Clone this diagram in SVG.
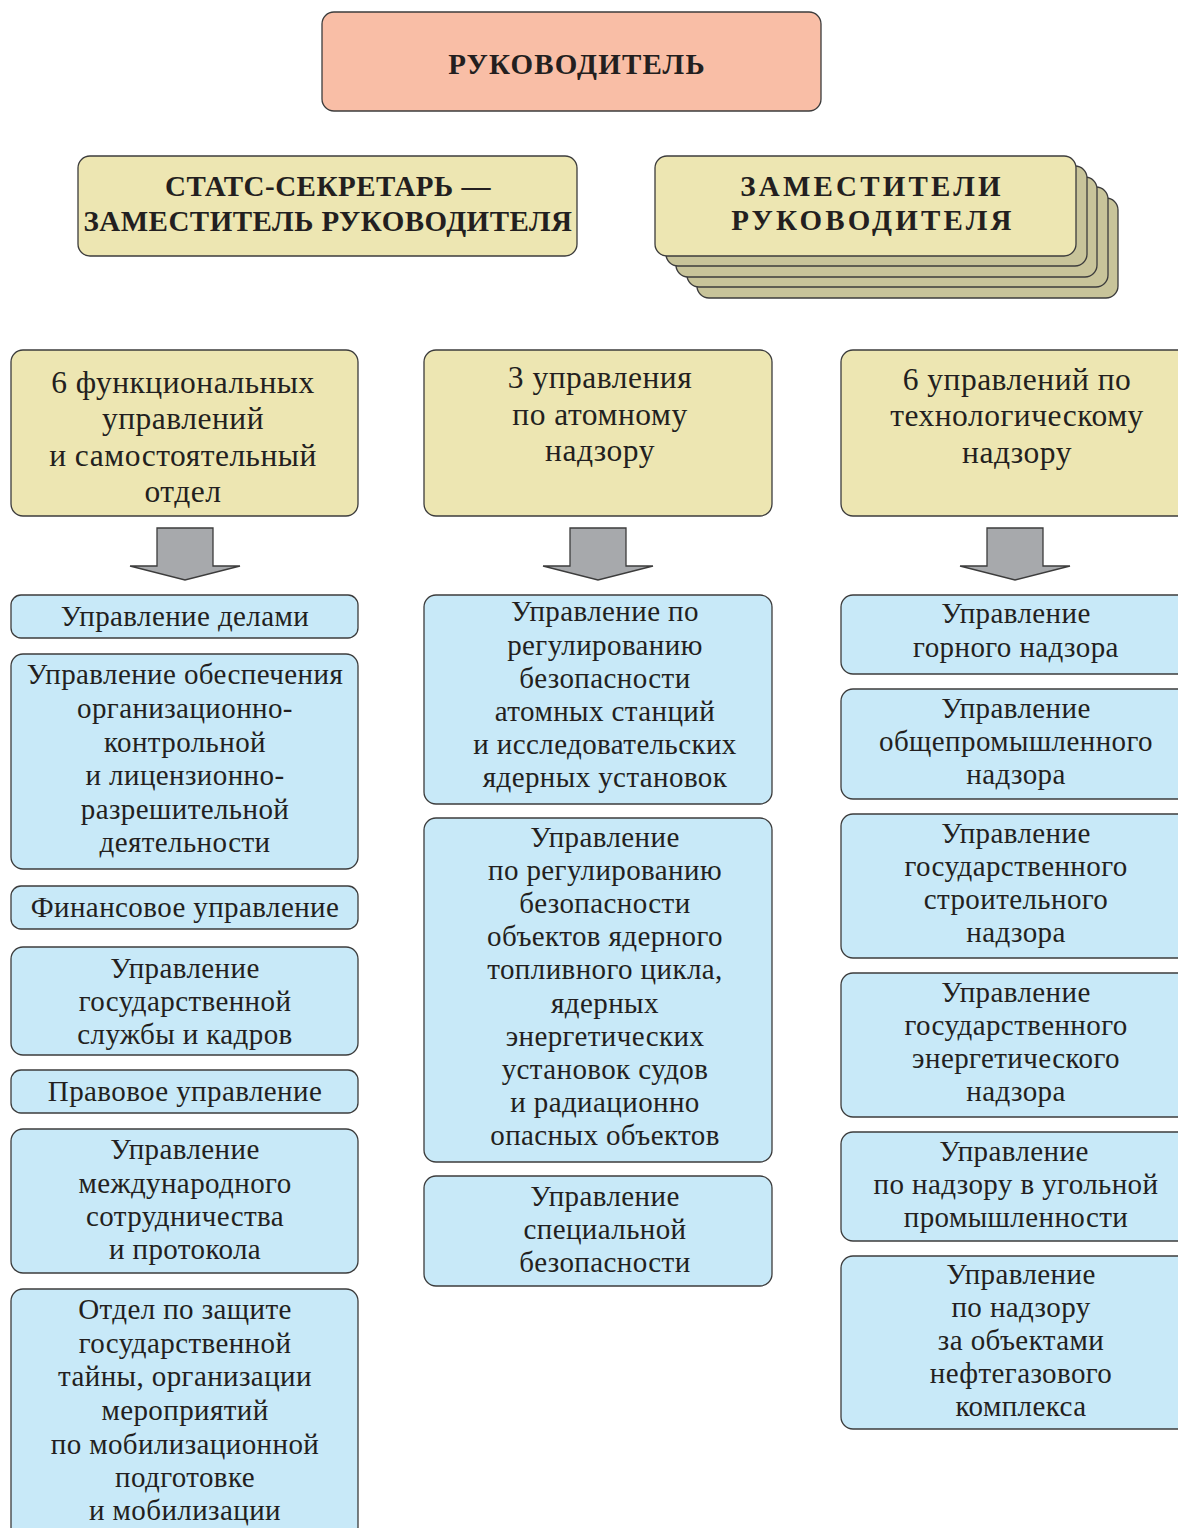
<svg xmlns="http://www.w3.org/2000/svg" width="1178" height="1528" viewBox="0 0 1178 1528">
<style>
.box{stroke:#3c3c3c;stroke-width:1.3}
.red{fill:#f9bea6}
.ylw{fill:#ede6b2}
.ylwd{fill:#c8c49a}
.blue{fill:#c8e9f8}
.arr{fill:#a7a9ac;stroke:#3c3c3c;stroke-width:1.3;stroke-linejoin:miter}
text{font-family:"Liberation Serif","Times New Roman",serif;fill:#231f20;text-anchor:middle}
.t{font-size:29px;letter-spacing:0.4px}
.h{font-size:31.5px;letter-spacing:0.5px}
.b{font-size:29px;font-weight:bold;letter-spacing:0.5px}
.bt{font-size:29px;font-weight:bold;letter-spacing:1.2px}
.bs{font-size:29px;font-weight:bold;letter-spacing:3.2px}
</style>
<rect width="1178" height="1528" fill="#ffffff"/>

<g id="n-head">
<rect class="box red" x="322" y="12" width="499" height="99" rx="12"/>
<text class="bt" x="577" y="74">РУКОВОДИТЕЛЬ</text>
</g>

<g id="n-secretary">
<rect class="box ylw" x="78" y="156" width="499" height="100" rx="12"/>
<text class="b" x="328" y="196">СТАТС-СЕКРЕТАРЬ —</text>
<text class="b" x="328" y="231">ЗАМЕСТИТЕЛЬ РУКОВОДИТЕЛЯ</text>
</g>

<g id="n-deputies">
<rect class="box ylwd" x="697" y="198" width="421" height="100" rx="12"/>
<rect class="box ylwd" x="687" y="187" width="421" height="100" rx="12"/>
<rect class="box ylwd" x="676" y="177" width="421" height="100" rx="12"/>
<rect class="box ylwd" x="666" y="166" width="421" height="100" rx="12"/>
<rect class="box ylw" x="655" y="156" width="421" height="100" rx="12"/>
<text class="bs" x="872" y="196">ЗАМЕСТИТЕЛИ</text>
<text class="bs" x="873" y="230">РУКОВОДИТЕЛЯ</text>
</g>

<g id="n-func">
<rect class="box ylw" x="11" y="350" width="347" height="166" rx="12"/>
<text class="h" x="183" y="393">6 функциональных</text>
<text class="h" x="183" y="429">управлений</text>
<text class="h" x="183" y="466">и самостоятельный</text>
<text class="h" x="183" y="502">отдел</text>
</g>

<g id="n-atom">
<rect class="box ylw" x="424" y="350" width="348" height="166" rx="12"/>
<text class="h" x="600" y="388">3 управления</text>
<text class="h" x="600" y="425">по атомному</text>
<text class="h" x="600" y="461">надзору</text>
</g>

<g id="n-tech">
<rect class="box ylw" x="841" y="350" width="350" height="166" rx="12"/>
<text class="h" x="1017" y="390">6 управлений по</text>
<text class="h" x="1017" y="426">технологическому</text>
<text class="h" x="1017" y="463">надзору</text>
</g>

<g id="connectors">
<path class="arr" d="M157,528 H213 V566 H240 L185,580 L130,566 H157 Z"/>
<path class="arr" d="M570,528 H626 V566 H653 L598,580 L543,566 H570 Z"/>
<path class="arr" d="M987,528 H1043 V566 H1070 L1015,580 L960,566 H987 Z"/>
</g>

<g id="n-l1">
<rect class="box blue" x="11" y="595" width="347" height="43" rx="10"/>
<text class="t" x="185" y="626">Управление делами</text>
</g>
<g id="n-l2">
<rect class="box blue" x="11" y="654" width="347" height="215" rx="12"/>
<text class="t" x="185" y="684">Управление обеспечения</text>
<text class="t" x="185" y="718">организационно-</text>
<text class="t" x="185" y="752">контрольной</text>
<text class="t" x="185" y="785">и лицензионно-</text>
<text class="t" x="185" y="819">разрешительной</text>
<text class="t" x="185" y="852">деятельности</text>
</g>
<g id="n-l3">
<rect class="box blue" x="11" y="886" width="347" height="43" rx="10"/>
<text class="t" x="185" y="917">Финансовое управление</text>
</g>
<g id="n-l4">
<rect class="box blue" x="11" y="947" width="347" height="108" rx="12"/>
<text class="t" x="185" y="978">Управление</text>
<text class="t" x="185" y="1011">государственной</text>
<text class="t" x="185" y="1044">службы и кадров</text>
</g>
<g id="n-l5">
<rect class="box blue" x="11" y="1070" width="347" height="43" rx="10"/>
<text class="t" x="185" y="1101">Правовое управление</text>
</g>
<g id="n-l6">
<rect class="box blue" x="11" y="1129" width="347" height="144" rx="12"/>
<text class="t" x="185" y="1159">Управление</text>
<text class="t" x="185" y="1193">международного</text>
<text class="t" x="185" y="1226">сотрудничества</text>
<text class="t" x="185" y="1259">и протокола</text>
</g>
<g id="n-l7">
<rect class="box blue" x="11" y="1289" width="347" height="250" rx="12"/>
<text class="t" x="185" y="1319">Отдел по защите</text>
<text class="t" x="185" y="1353">государственной</text>
<text class="t" x="185" y="1386">тайны, организации</text>
<text class="t" x="185" y="1420">мероприятий</text>
<text class="t" x="185" y="1454">по мобилизационной</text>
<text class="t" x="185" y="1487">подготовке</text>
<text class="t" x="185" y="1520">и мобилизации</text>
</g>

<g id="n-m1">
<rect class="box blue" x="424" y="595" width="348" height="209" rx="12"/>
<text class="t" x="605" y="621">Управление по</text>
<text class="t" x="605" y="655">регулированию</text>
<text class="t" x="605" y="688">безопасности</text>
<text class="t" x="605" y="721">атомных станций</text>
<text class="t" x="605" y="754">и исследовательских</text>
<text class="t" x="605" y="787">ядерных установок</text>
</g>
<g id="n-m2">
<rect class="box blue" x="424" y="818" width="348" height="344" rx="12"/>
<text class="t" x="605" y="847">Управление</text>
<text class="t" x="605" y="880">по регулированию</text>
<text class="t" x="605" y="913">безопасности</text>
<text class="t" x="605" y="946">объектов ядерного</text>
<text class="t" x="605" y="979">топливного цикла,</text>
<text class="t" x="605" y="1013">ядерных</text>
<text class="t" x="605" y="1046">энергетических</text>
<text class="t" x="605" y="1079">установок судов</text>
<text class="t" x="605" y="1112">и радиационно</text>
<text class="t" x="605" y="1145">опасных объектов</text>
</g>
<g id="n-m3">
<rect class="box blue" x="424" y="1176" width="348" height="110" rx="12"/>
<text class="t" x="605" y="1206">Управление</text>
<text class="t" x="605" y="1239">специальной</text>
<text class="t" x="605" y="1272">безопасности</text>
</g>

<g id="n-r1">
<rect class="box blue" x="841" y="595" width="350" height="79" rx="12"/>
<text class="t" x="1016" y="623">Управление</text>
<text class="t" x="1016" y="657">горного надзора</text>
</g>
<g id="n-r2">
<rect class="box blue" x="841" y="689" width="350" height="110" rx="12"/>
<text class="t" x="1016" y="718">Управление</text>
<text class="t" x="1016" y="751">общепромышленного</text>
<text class="t" x="1016" y="784">надзора</text>
</g>
<g id="n-r3">
<rect class="box blue" x="841" y="814" width="350" height="144" rx="12"/>
<text class="t" x="1016" y="843">Управление</text>
<text class="t" x="1016" y="876">государственного</text>
<text class="t" x="1016" y="909">строительного</text>
<text class="t" x="1016" y="942">надзора</text>
</g>
<g id="n-r4">
<rect class="box blue" x="841" y="973" width="350" height="144" rx="12"/>
<text class="t" x="1016" y="1002">Управление</text>
<text class="t" x="1016" y="1035">государственного</text>
<text class="t" x="1016" y="1068">энергетического</text>
<text class="t" x="1016" y="1101">надзора</text>
</g>
<g id="n-r5">
<rect class="box blue" x="841" y="1132" width="350" height="109" rx="12"/>
<text class="t" x="1014" y="1161">Управление</text>
<text class="t" x="1016" y="1194">по надзору в угольной</text>
<text class="t" x="1016" y="1227">промышленности</text>
</g>
<g id="n-r6">
<rect class="box blue" x="841" y="1256" width="350" height="173" rx="12"/>
<text class="t" x="1021" y="1284">Управление</text>
<text class="t" x="1021" y="1317">по надзору</text>
<text class="t" x="1021" y="1350">за объектами</text>
<text class="t" x="1021" y="1383">нефтегазового</text>
<text class="t" x="1021" y="1416">комплекса</text>
</g>
</svg>
